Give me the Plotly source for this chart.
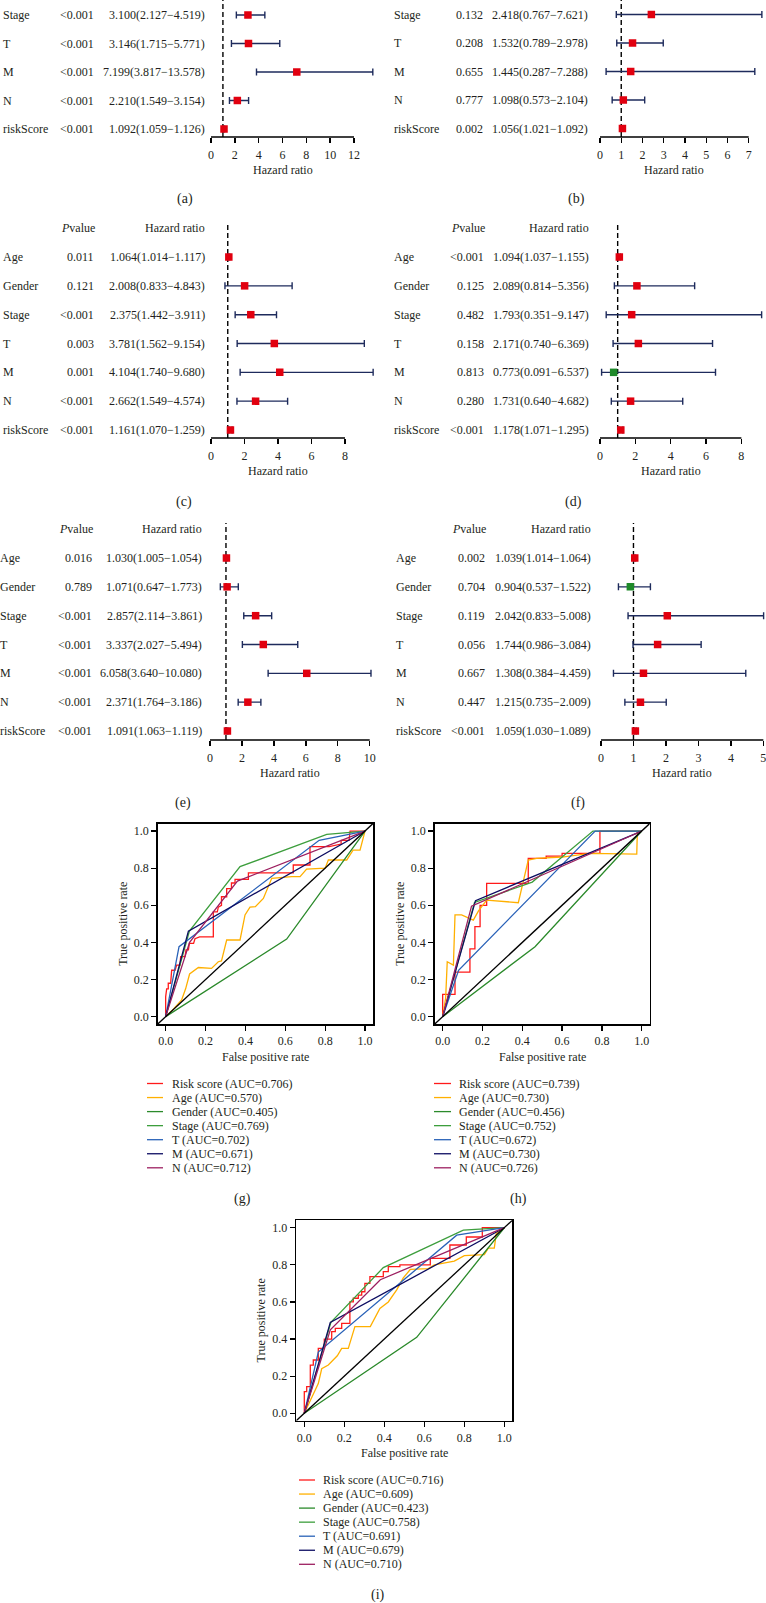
import plotly.graph_objects as go

W, H = 766, 1603
FONT = "Liberation Serif, Times New Roman, serif"
TXT = "#231f20"
RED_SQ = "#e1000f"
GREEN_SQ = "#1f8a2a"
NAVY_BAR = "#1e2b5c"

# ---------------- forest-plot data ----------------
a_vars = ["Stage", "T", "M", "N", "riskScore"]
a_p = ["<0.001", "<0.001", "<0.001", "<0.001", "<0.001"]
a_hr = [3.100, 3.146, 7.199, 2.210, 1.092]
a_lo = [2.127, 1.715, 3.817, 1.549, 1.059]
a_hi = [4.519, 5.771, 13.578, 3.154, 1.126]
a_ticks = [0, 2, 4, 6, 8, 10, 12]

b_vars = ["Stage", "T", "M", "N", "riskScore"]
b_p = ["0.132", "0.208", "0.655", "0.777", "0.002"]
b_hr = [2.418, 1.532, 1.445, 1.098, 1.056]
b_lo = [0.767, 0.789, 0.287, 0.573, 1.021]
b_hi = [7.621, 2.978, 7.288, 2.104, 1.092]
b_ticks = [0, 1, 2, 3, 4, 5, 6, 7]

c_vars = ["Age", "Gender", "Stage", "T", "M", "N", "riskScore"]
c_p = ["0.011", "0.121", "<0.001", "0.003", "0.001", "<0.001", "<0.001"]
c_hr = [1.064, 2.008, 2.375, 3.781, 4.104, 2.662, 1.161]
c_lo = [1.014, 0.833, 1.442, 1.562, 1.740, 1.549, 1.070]
c_hi = [1.117, 4.843, 3.911, 9.154, 9.680, 4.574, 1.259]
c_ticks = [0, 2, 4, 6, 8]

d_vars = ["Age", "Gender", "Stage", "T", "M", "N", "riskScore"]
d_p = ["<0.001", "0.125", "0.482", "0.158", "0.813", "0.280", "<0.001"]
d_hr = [1.094, 2.089, 1.793, 2.171, 0.773, 1.731, 1.178]
d_lo = [1.037, 0.814, 0.351, 0.740, 0.091, 0.640, 1.071]
d_hi = [1.155, 5.356, 9.147, 6.369, 6.537, 4.682, 1.295]
d_ticks = [0, 2, 4, 6, 8]

e_vars = ["Age", "Gender", "Stage", "T", "M", "N", "riskScore"]
e_p = ["0.016", "0.789", "<0.001", "<0.001", "<0.001", "<0.001", "<0.001"]
e_hr = [1.030, 1.071, 2.857, 3.337, 6.058, 2.371, 1.091]
e_lo = [1.005, 0.647, 2.114, 2.027, 3.640, 1.764, 1.063]
e_hi = [1.054, 1.773, 3.861, 5.494, 10.080, 3.186, 1.119]
e_ticks = [0, 2, 4, 6, 8, 10]

f_vars = ["Age", "Gender", "Stage", "T", "M", "N", "riskScore"]
f_p = ["0.002", "0.704", "0.119", "0.056", "0.667", "0.447", "<0.001"]
f_hr = [1.039, 0.904, 2.042, 1.744, 1.308, 1.215, 1.059]
f_lo = [1.014, 0.537, 0.833, 0.986, 0.384, 0.735, 1.030]
f_hi = [1.064, 1.522, 5.008, 3.084, 4.459, 2.009, 1.089]
f_ticks = [0, 1, 2, 3, 4, 5]

# ---------------- ROC data (fpr, tpr) ----------------
roc_names = ["Risk score", "Age", "Gender", "Stage", "T", "M", "N"]
roc_colors = ["#ff1a1a", "#ffb000", "#2b8a2b", "#3d9e3d", "#2a62b8", "#0d0d62", "#9c1f60"]
roc_ticks = [0.0, 0.2, 0.4, 0.6, 0.8, 1.0]

g_auc = [0.706, 0.570, 0.405, 0.769, 0.702, 0.671, 0.712]
g_risk = [(0, 0), (0, 0.108), (0.005, 0.15), (0.013, 0.15), (0.013, 0.18), (0.025, 0.18), (0.03, 0.25),
          (0.047, 0.25), (0.055, 0.278), (0.072, 0.278), (0.075, 0.323), (0.097, 0.323), (0.102, 0.36),
          (0.114, 0.36), (0.119, 0.395), (0.14, 0.395), (0.147, 0.42), (0.17, 0.43), (0.239, 0.43),
          (0.239, 0.565), (0.259, 0.565), (0.264, 0.59), (0.28, 0.6), (0.28, 0.646), (0.306, 0.646),
          (0.306, 0.69), (0.33, 0.69), (0.33, 0.72), (0.348, 0.72), (0.348, 0.74), (0.415, 0.74),
          (0.415, 0.775), (0.64, 0.775), (0.64, 0.817), (0.724, 0.817), (0.724, 0.916), (0.82, 0.916),
          (0.88, 0.93), (0.88, 0.95), (0.92, 0.95), (0.925, 1.0), (1.0, 1.0)]
g_age = [(0, 0), (0.03, 0.03), (0.08, 0.09), (0.1, 0.15), (0.12, 0.23), (0.164, 0.265), (0.23, 0.26),
         (0.264, 0.296), (0.28, 0.3), (0.306, 0.413), (0.373, 0.413), (0.398, 0.548), (0.423, 0.59),
         (0.45, 0.593), (0.49, 0.637), (0.532, 0.745), (0.632, 0.754), (0.674, 0.754), (0.707, 0.795),
         (0.8, 0.8), (0.816, 0.844), (0.908, 0.844), (0.94, 0.897), (0.975, 0.897), (1, 1)]
g_gender = [(0, 0), (0.607, 0.418), (1, 1)]
g_stage = [(0, 0), (0.119, 0.461), (0.373, 0.808), (0.808, 0.982), (1, 1)]
g_t = [(0, 0), (0.067, 0.377), (0.77, 0.95), (1, 1)]
g_m = [(0, 0), (0.114, 0.461), (1, 1)]
g_n = [(0, 0), (0.12, 0.40), (0.36, 0.73), (1, 1)]

h_auc = [0.739, 0.730, 0.456, 0.752, 0.672, 0.730, 0.726]
h_risk = [(0, 0), (0, 0.12), (0.062, 0.12), (0.062, 0.24), (0.137, 0.24), (0.137, 0.365), (0.162, 0.365),
          (0.162, 0.485), (0.188, 0.485), (0.188, 0.6), (0.221, 0.6), (0.221, 0.718), (0.43, 0.718),
          (0.43, 0.853), (0.52, 0.853), (0.52, 0.865), (0.6, 0.865), (0.6, 0.88), (0.79, 0.88),
          (0.79, 1.0), (1, 1)]
h_age = [(0, 0), (0.015, 0.1), (0.023, 0.296), (0.054, 0.278), (0.062, 0.548), (0.095, 0.548),
         (0.154, 0.52), (0.18, 0.57), (0.221, 0.628), (0.38, 0.614), (0.43, 0.844), (0.472, 0.853),
         (0.6, 0.86), (0.74, 0.88), (0.975, 0.876), (0.978, 1.0), (1, 1)]
h_gender = [(0, 0), (0.464, 0.377), (1, 1)]
h_stage = [(0, 0), (0.16, 0.615), (0.45, 0.725), (0.755, 1.0), (1, 1)]
h_t = [(0, 0), (0.08, 0.25), (0.766, 1.0), (1, 1)]
h_m = [(0, 0), (0.165, 0.625), (1, 1)]
h_n = [(0, 0), (0.145, 0.595), (1, 1)]

i_auc = [0.716, 0.609, 0.423, 0.758, 0.691, 0.679, 0.710]
i_risk = [(0, 0), (0, 0.117), (0.012, 0.117), (0.012, 0.144), (0.03, 0.144), (0.03, 0.26), (0.045, 0.26),
          (0.045, 0.287), (0.07, 0.287), (0.07, 0.35), (0.1, 0.35), (0.1, 0.4), (0.137, 0.4), (0.137, 0.44),
          (0.155, 0.44), (0.155, 0.458), (0.187, 0.458), (0.187, 0.485), (0.228, 0.485), (0.228, 0.6),
          (0.245, 0.6), (0.245, 0.62), (0.27, 0.62), (0.27, 0.637), (0.287, 0.637), (0.287, 0.655),
          (0.303, 0.655), (0.303, 0.7), (0.328, 0.7), (0.328, 0.736), (0.395, 0.736), (0.395, 0.763),
          (0.42, 0.763), (0.42, 0.79), (0.478, 0.79), (0.478, 0.8), (0.63, 0.8), (0.63, 0.835),
          (0.728, 0.835), (0.728, 0.907), (0.81, 0.907), (0.81, 0.95), (0.89, 0.95), (0.89, 1.0), (1, 1)]
i_age = [(0, 0), (0.037, 0.08), (0.07, 0.16), (0.087, 0.24), (0.12, 0.26), (0.165, 0.31), (0.187, 0.35),
         (0.22, 0.35), (0.253, 0.467), (0.33, 0.467), (0.378, 0.565), (0.42, 0.6), (0.462, 0.665),
         (0.495, 0.73), (0.53, 0.775), (0.62, 0.78), (0.65, 0.8), (0.75, 0.82), (0.8, 0.85), (0.9, 0.855),
         (0.92, 0.89), (0.95, 0.89), (0.96, 0.97), (1, 1)]
i_gender = [(0, 0), (0.562, 0.409), (1, 1)]
i_stage = [(0, 0), (0.133, 0.49), (0.395, 0.785), (0.795, 0.987), (1, 1)]
i_t = [(0, 0), (0.07, 0.33), (0.762, 0.96), (1, 1)]
i_m = [(0, 0), (0.13, 0.49), (1, 1)]
i_n = [(0, 0), (0.13, 0.45), (0.38, 0.72), (1, 1)]

# ---------------- helpers ----------------
def fx(p):
    return p / W

def fy(p):
    return 1 - p / H

def font(size=12, color=TXT):
    return dict(family=FONT, size=size, color=color)

fig = go.Figure()
layout = {}
shapes = []
annotations = []

def ann(text, x, y, xref="paper", yref="paper", xanchor="center", yanchor="middle", size=12, angle=0):
    annotations.append(dict(text=text, x=x, y=y, xref=xref, yref=yref, xanchor=xanchor,
                            yanchor=yanchor, showarrow=False, font=font(size), textangle=angle,
                            borderpad=0, borderwidth=0))

# ---------------- forest plots ----------------
forest_data = [
    (a_vars, a_p, a_hr, a_lo, a_hi, a_ticks, "(a)"),
    (b_vars, b_p, b_hr, b_lo, b_hi, b_ticks, "(b)"),
    (c_vars, c_p, c_hr, c_lo, c_hi, c_ticks, "(c)"),
    (d_vars, d_p, d_hr, d_lo, d_hi, d_ticks, "(d)"),
    (e_vars, e_p, e_hr, e_lo, e_hi, e_ticks, "(e)"),
    (f_vars, f_p, f_hr, f_lo, f_hi, f_ticks, "(f)"),
]
forest_geom = [
    dict(lab=3, pr=94, hrr=205, x0=211, unit=11.917, row1=129, pitch=28.5, axis=137, top=0, header=False, ty=170, pl=(185, 199)),
    dict(lab=394, pr=483, hrr=588, x0=600, unit=21.24, row1=128.5, pitch=28.5, axis=137, top=0, header=False, ty=170, pl=(576, 199)),
    dict(lab=3, pr=94, hrr=205, x0=211, unit=16.75, row1=430, pitch=28.83, axis=438, top=223, header=True, ty=471, pl=(184, 502)),
    dict(lab=394, pr=484, hrr=589, x0=600, unit=17.67, row1=430, pitch=28.83, axis=438, top=223, header=True, ty=471, pl=(573, 502)),
    dict(lab=0, pr=92, hrr=202, x0=210, unit=15.97, row1=731, pitch=28.83, axis=740, top=523, header=True, ty=773, pl=(183, 803)),
    dict(lab=396, pr=485, hrr=591, x0=601, unit=32.47, row1=731, pitch=28.83, axis=740, top=523, header=True, ty=773, pl=(578, 803)),
]

for k, ((vars_, pv, hr, lo, hi, ticks, plab), g) in enumerate(zip(forest_data, forest_geom), start=1):
    sfx = "" if k == 1 else str(k)
    n = len(vars_)
    yv = [n - j for j in range(n)]
    cols = [RED_SQ if h >= 1 else GREEN_SQ for h in hr]
    fig.add_trace(go.Scatter(
        x=hr, y=yv, mode="markers",
        marker=dict(symbol="square", size=7.5, color=cols, line=dict(width=0)),
        error_x=dict(type="data", symmetric=False,
                     array=[h - m for h, m in zip(hi, hr)],
                     arrayminus=[m - l for m, l in zip(hr, lo)],
                     color=NAVY_BAR, thickness=1.4, width=3.5),
        xaxis="x" + sfx, yaxis="y" + sfx, showlegend=False, hoverinfo="skip"))
    L = g["x0"] - 8
    R = min(W - 0.5, g["x0"] + g["unit"] * max(max(hi), ticks[-1]) + 4)
    layout["xaxis" + sfx] = dict(
        domain=[fx(L), fx(R)], range=[(L - g["x0"]) / g["unit"], (R - g["x0"]) / g["unit"]],
        anchor="y" + sfx, showline=False, showgrid=False, zeroline=False,
        ticks="outside", ticklen=5, tickwidth=1.4, tickcolor="black",
        tickvals=ticks, ticktext=[str(t) for t in ticks], tickfont=font(12), ticklabelstandoff=2,
        ticklabeloverflow="allow")
    ybot = 1 - (g["axis"] - g["row1"]) / g["pitch"]
    ytop = 1 + (g["row1"] - g["top"]) / g["pitch"]
    layout["yaxis" + sfx] = dict(domain=[fy(g["axis"]), fy(g["top"])], range=[ybot, ytop],
                                 anchor="x" + sfx, visible=False)
    shapes.append(dict(type="line", xref="x" + sfx, yref="y" + sfx + " domain", x0=1, x1=1, y0=0, y1=1,
                       line=dict(color="black", width=1.4, dash="5px,3px"), layer="below"))
    shapes.append(dict(type="line", xref="x" + sfx, yref="y" + sfx + " domain", x0=ticks[0], x1=ticks[-1],
                       y0=0, y1=0, line=dict(color="black", width=1.6)))
    for j in range(n):
        ann(vars_[j], fx(g["lab"]), yv[j], yref="y" + sfx, xanchor="left")
        ann(pv[j], fx(g["pr"]), yv[j], yref="y" + sfx, xanchor="right")
        ann(f"{hr[j]:.3f}({lo[j]:.3f}\u2212{hi[j]:.3f})", fx(g["hrr"]), yv[j], yref="y" + sfx, xanchor="right")
    if g["header"]:
        ann("<i>P</i>value", fx(g["pr"] + 1), n + 1, yref="y" + sfx, xanchor="right")
        ann("Hazard ratio", fx(g["hrr"]), n + 1, yref="y" + sfx, xanchor="right")
    ann("Hazard ratio", (ticks[0] + ticks[-1]) / 2, fy(g["ty"]), xref="x" + sfx)
    ann(plab, fx(g["pl"][0]), fy(g["pl"][1]), size=14)

# ---------------- ROC plots ----------------
roc_data = [
    ([g_risk, g_age, g_gender, g_stage, g_t, g_m, g_n], g_auc, "(g)"),
    ([h_risk, h_age, h_gender, h_stage, h_t, h_m, h_n], h_auc, "(h)"),
    ([i_risk, i_age, i_gender, i_stage, i_t, i_m, i_n], i_auc, "(i)"),
]
roc_geom = [
    dict(L=157.7, R=373.0, T=823.6, B=1024.1, xt=1057, yt=123, leg=(147, 163, 172, 1083.5), pl=(242, 1199)),
    dict(L=434.7, R=649.7, T=823.6, B=1024.1, xt=1057, yt=400, leg=(434, 451, 459, 1083.5), pl=(518, 1199)),
    dict(L=296.3, R=512.3, T=1220.3, B=1420.7, xt=1453, yt=260, leg=(299, 315, 323, 1480), pl=(378, 1595)),
]
ROC_RANGE = [-0.04, 1.04]

for k, ((curves, aucs, plab), g) in enumerate(zip(roc_data, roc_geom), start=7):
    sfx = str(k)
    for pts, col in zip(curves, roc_colors):
        fig.add_trace(go.Scatter(x=[p[0] for p in pts], y=[p[1] for p in pts], mode="lines",
                                 line=dict(color=col, width=1.3), xaxis="x" + sfx, yaxis="y" + sfx,
                                 showlegend=False, hoverinfo="skip"))
    fig.add_trace(go.Scatter(x=ROC_RANGE, y=ROC_RANGE, mode="lines", line=dict(color="black", width=1.3),
                             xaxis="x" + sfx, yaxis="y" + sfx, showlegend=False, hoverinfo="skip"))
    common = dict(range=ROC_RANGE, showline=True, mirror=True, linecolor="black", linewidth=1.6,
                  ticks="outside", ticklen=5, tickwidth=1.3, tickcolor="black", tickvals=roc_ticks,
                  ticktext=[f"{t:.1f}" for t in roc_ticks], showgrid=False, zeroline=False,
                  tickfont=font(12))
    layout["xaxis" + sfx] = dict(domain=[fx(g["L"]), fx(g["R"])], anchor="y" + sfx, **common)
    layout["yaxis" + sfx] = dict(domain=[fy(g["B"]), fy(g["T"])], anchor="x" + sfx, **common)
    ann("False positive rate", fx((g["L"] + g["R"]) / 2), fy(g["xt"]))
    ann("True positive rate", fx(g["yt"]), fy((g["T"] + g["B"]) / 2), angle=-90)
    lx0, lx1, tx, ly0 = g["leg"]
    for j, (nm, col, auc) in enumerate(zip(roc_names, roc_colors, aucs)):
        yy = ly0 + j * 14.05
        shapes.append(dict(type="line", xref="paper", yref="paper", x0=fx(lx0), x1=fx(lx1),
                           y0=fy(yy), y1=fy(yy), line=dict(color=col, width=1.3)))
        ann(f"{nm} (AUC={auc:.3f})", fx(tx), fy(yy), xanchor="left")
    ann(plab, fx(g["pl"][0]), fy(g["pl"][1]), size=14)

fig.update_layout(
    width=W, height=H, margin=dict(l=0, r=0, t=0, b=0),
    paper_bgcolor="white", plot_bgcolor="rgba(0,0,0,0)",
    font=font(12), showlegend=False, shapes=shapes, annotations=annotations, **layout)

fig.write_html("out.html", config={"displayModeBar": False, "staticPlot": True},
               post_script="document.body.style.margin='0';document.body.style.overflow='hidden';")
